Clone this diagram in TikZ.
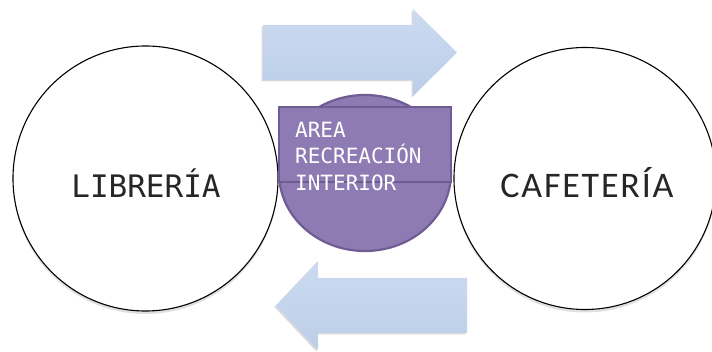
\documentclass[tikz,border=0pt]{standalone}
\usepackage{fontspec}
\usetikzlibrary{shadows}
\newfontfamily\monof{DejaVu Sans Mono}
\newfontfamily\calib[LetterSpace=5]{Carlito}
\definecolor{arrowtop}{HTML}{CCDBF0}
\definecolor{arrowbot}{HTML}{BBCDE8}
\definecolor{purfill}{HTML}{8F7BB3}
\definecolor{purline}{HTML}{6F5C92}
\definecolor{txtdark}{HTML}{262626}
\tikzset{
  bigcircle/.style={circle, draw=black, line width=1.1pt, fill=white, minimum size=#1, inner sep=0pt,
    drop shadow={shadow xshift=0pt, shadow yshift=-3pt, opacity=0.12, fill=black}},
  blockarrow/.style={top color=arrowtop, bottom color=arrowbot, draw=none,
    drop shadow={shadow xshift=-1.5pt, shadow yshift=-1.5pt, opacity=0.15, fill=black}},
  purpart/.style={fill=purfill, draw=purline, line width=2.2pt},
  labeltext/.style={text=txtdark, inner sep=0pt},
}
\begin{document}
\begin{tikzpicture}[x=1pt,y=-1pt]
\useasboundingbox (0,0) rectangle (712,352);
% circles
\node[bigcircle=265pt] (lib) at (145.5,178.5) {};
\node[bigcircle=262pt] (caf) at (585,178.5) {};
% labels
\node[labeltext, font=\monof\fontsize{31}{31}\selectfont] (libt) at (146,183) {LIBRERÍA};
\node[labeltext, font=\calib\fontsize{36}{36}\selectfont] (caft) at (587,183) {CAFETERÍA};
% block arrows
\path[blockarrow] (263,25) -- (413,25) -- (413,9) -- (457,52.5) -- (413,96) -- (413,80) -- (263,80) -- cycle;
\path[blockarrow] (467,278) -- (318,278) -- (318,261) -- (276,305.5) -- (318,350) -- (318,333) -- (467,333) -- cycle;
% central purple shape
\draw[purpart] (365,173) ellipse [x radius=86, y radius=78];
\draw[purpart] (279,107) rectangle (451,182);
\node[anchor=north west, inner sep=0pt, align=left, text=white,
      font=\monof\fontsize{21}{26.5}\selectfont] (area) at (295,121.7)
  {AREA\\RECREACIÓN\\INTERIOR};
\end{tikzpicture}
\end{document}
